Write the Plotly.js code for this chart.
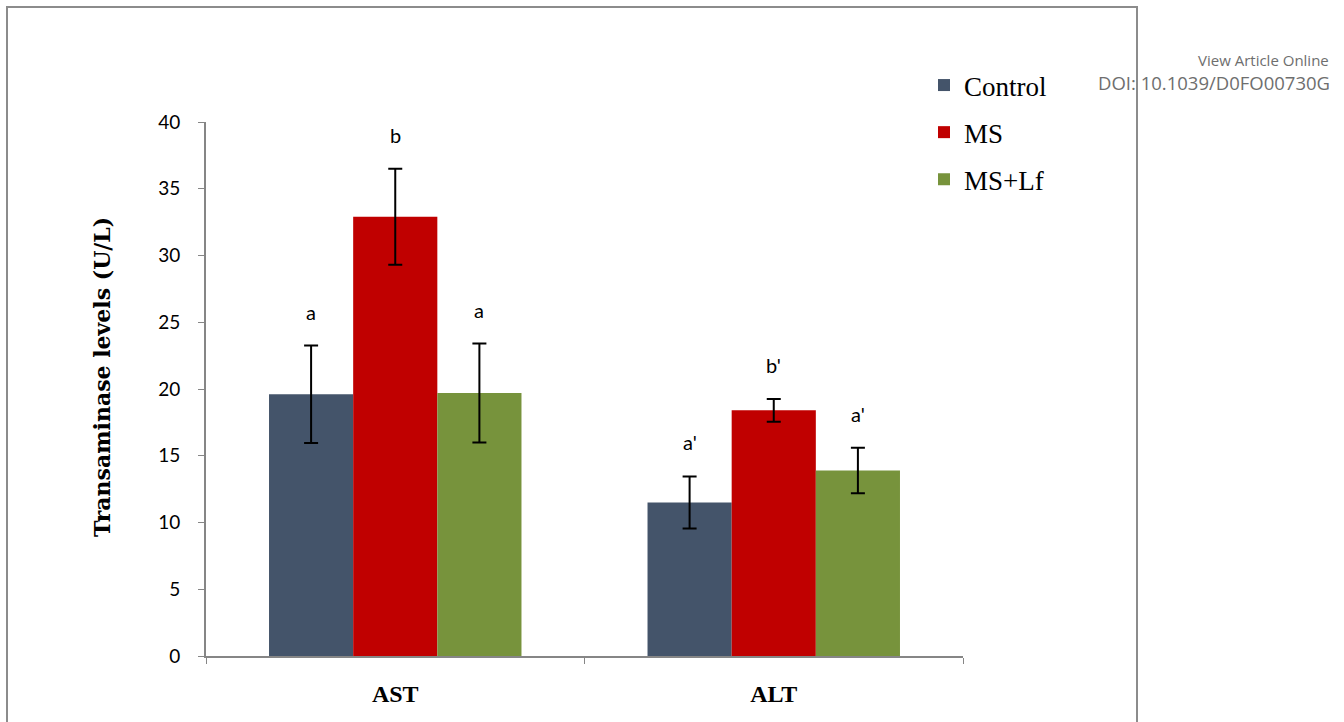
<!DOCTYPE html>
<html>
<head>
<meta charset="utf-8">
<script src="https://cdn.plot.ly/plotly-3.0.1.min.js"></script>
<style>
  html, body { margin: 0; padding: 0; background: #ffffff; }
  #chart { width: 1344px; height: 722px; }
</style>
</head>
<body>
<div id="chart"></div>
<script>
// ---- data ----
const categories = ["AST", "ALT"];
const seriesNames = ["Control", "MS", "MS+Lf"];
const controlValues = [19.6, 11.5];
const msValues = [32.9, 18.4];
const mslfValues = [19.7, 13.9];
const controlErrors = [3.65, 1.95];
const msErrors = [3.6, 0.85];
const mslfErrors = [3.7, 1.7];
const controlLetters = ["a", "a'"];
const msLetters = ["b", "b'"];
const mslfLetters = ["a", "a'"];
const yTicks = [0, 5, 10, 15, 20, 25, 30, 35, 40];
const yTitle = "Transaminase levels (U/L)";

const colors = ["#44546A", "#C00000", "#77933C"];
const allValues = [controlValues, msValues, mslfValues];
const allErrors = [controlErrors, msErrors, mslfErrors];
const allLetters = [controlLetters, msLetters, mslfLetters];

const bargap = 0.333;
const nSeries = seriesNames.length;
const barW = (1 - bargap) / nSeries;

const traces = seriesNames.map((name, i) => ({
  type: "bar",
  name: name,
  x: categories,
  y: allValues[i],
  marker: { color: colors[i], line: { width: 0 } },
  error_y: { type: "data", array: allErrors[i], visible: true, color: "#000000", thickness: 2, width: 7 },
  legendgroup: "g" + i,
  hoverinfo: "skip"
}));

const mL = 206, mR = 381, mT = 122, mB = 66;
const pw = 1344 - mL - mR, ph = 722 - mT - mB;
const px = v => (v - mL) / pw;
const py = v => (722 - mB - v) / ph;

const annotations = [];
seriesNames.forEach((name, i) => {
  categories.forEach((c, j) => {
    annotations.push({
      xref: "x", yref: "y",
      x: j + (i - (nSeries - 1) / 2) * barW,
      y: allValues[i][j] + allErrors[i][j],
      text: allLetters[i][j],
      showarrow: false,
      yanchor: "bottom",
      yshift: 20,
      font: { family: "Lato, 'Open Sans', sans-serif", size: 20, color: "#000000" }
    });
  });
});

// y-axis title (drawn as a rotated annotation to match its offset position)
annotations.push({
  xref: "paper", yref: "paper", x: px(102), y: py(377), xanchor: "center", yanchor: "middle",
  text: yTitle, textangle: -90, showarrow: false,
  font: { family: "'DejaVu Serif', serif", size: 22, color: "#000000", weight: "bold" }
});

annotations.push({
  xref: "paper", yref: "paper", x: px(1330), y: py(60), xanchor: "right", yanchor: "middle",
  text: "View Article Online", showarrow: false, borderpad: 0,
  font: { family: "'Open Sans', sans-serif", size: 15, color: "#6e6e6e" }
});
annotations.push({
  xref: "paper", yref: "paper", x: px(1331), y: py(83), xanchor: "right", yanchor: "middle",
  text: "DOI: 10.1039/D0FO00730G", showarrow: false, borderpad: 0,
  font: { family: "'Open Sans', sans-serif", size: 18.5, color: "#6e6e6e" }
});

const layout = {
  width: 1344, height: 722,
  margin: { l: mL, r: mR, t: mT, b: mB, pad: 0 },
  paper_bgcolor: "#ffffff", plot_bgcolor: "#ffffff",
  barmode: "group",
  bargap: bargap,
  bargroupgap: 0,
  showlegend: true,
  legend: {
    x: px(924), y: py(61), xanchor: "left", yanchor: "top",
    font: { family: "'Liberation Serif', serif", size: 27, color: "#000000" },
    tracegroupgap: 9,
    itemwidth: 30,
    bgcolor: "rgba(0,0,0,0)"
  },
  xaxis: {
    type: "category",
    showline: true, linecolor: "#868686", linewidth: 2,
    ticks: "outside", tickson: "boundaries", ticklen: 6, tickcolor: "#868686", tickwidth: 1,
    showgrid: false, zeroline: false,
    tickfont: { family: "'Liberation Serif', serif", size: 24, color: "#000000", weight: "bold" },
    ticklabelstandoff: 15,
    fixedrange: true
  },
  yaxis: {
    range: [0, 40],
    tickvals: yTicks,
    ticktext: yTicks.map(String),
    showline: true, linecolor: "#868686", linewidth: 2,
    ticks: "outside", ticklen: 6, tickcolor: "#868686", tickwidth: 1,
    showgrid: false, zeroline: false,
    tickfont: { family: "Lato, 'Open Sans', sans-serif", size: 19, color: "#000000" },
    ticklabelstandoff: 14,
    fixedrange: true
  },
  annotations: annotations,
  shapes: [{
    type: "rect", xref: "paper", yref: "paper",
    x0: px(7), x1: px(1137), y0: py(740), y1: py(7),
    line: { color: "#8c8c8c", width: 2 },
    fillcolor: "rgba(0,0,0,0)", layer: "below"
  }]
};

Plotly.newPlot("chart", traces, layout, { displayModeBar: false, staticPlot: true });
</script>
</body>
</html>
